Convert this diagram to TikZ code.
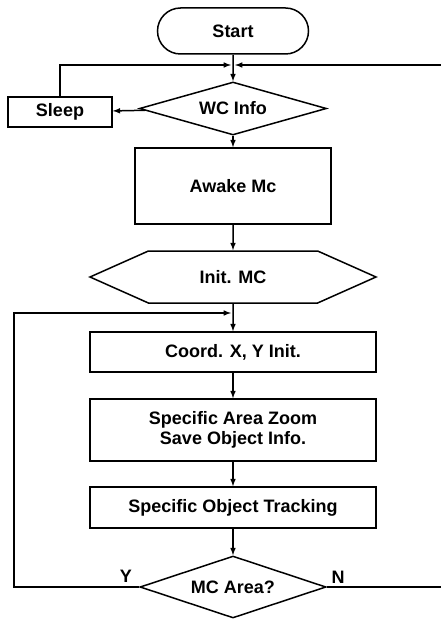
\documentclass[tikz,border=0pt]{standalone}
\usepackage{fontspec}
\setmainfont{Liberation Sans}
\usepackage{tikz}
\usetikzlibrary{arrows,positioning,shapes.geometric,shapes.misc,shapes.symbols}

\begin{document}
\begin{tikzpicture}[
  x=1pt, y=-1pt, line width=1.5pt, >=latex,
  every node/.style={font=\fontsize{18}{20}\selectfont\bfseries},
  term/.style={rounded rectangle, draw, minimum width=151pt, minimum height=46pt, inner sep=0pt},
  proc/.style={rectangle, draw, minimum width=286pt, inner sep=0pt, align=center},
  decide/.style={diamond, draw, aspect=3.5, minimum width=187pt, minimum height=53pt, inner sep=0pt},
  prep/.style={signal, signal to=west and east, signal pointer angle=48, draw, minimum width=286pt, minimum height=52pt, inner sep=0pt},
  flag/.style={inner sep=0pt}
]
\useasboundingbox (0,0) rectangle (440,620);

% Main column
\node[term] (start) at (233,31) {Start};
\coordinate (merge) at (233,65);
\node[decide] (wc) at (233,108.5) {WC Info};
\node[proc, minimum width=104pt, minimum height=30pt] (sleep) at (60,112) {Sleep};
\node[proc, minimum width=196pt, minimum height=76pt] (awake) at (233,186) {Awake Mc};
\node[prep] (init) at (233,277) {Init. MC};
\coordinate (merge2) at (233,313);
\node[proc, minimum height=40pt] (coord) at (233,352) {Coord. X, Y Init.};
\node[proc, minimum height=62pt] (zoom) at (233,430) {Specific Area Zoom\\Save Object Info.};
\node[proc, minimum height=41pt] (track) at (233,507.5) {Specific Object Tracking};
\node[decide, minimum width=186pt, minimum height=62pt] (mcarea) at (233,587) {MC Area?};

% Y / N labels
\node[flag] (yes) at (126,576) {Y};
\node[flag] (no) at (338,577) {N};

% Straight flow
\draw[->] (start) -- (wc);
\draw[->] (wc) -- (sleep);
\draw[->] (wc) -- (awake);
\draw[->] (awake) -- (init);
\draw[->] (init) -- (coord);
\draw[->] (coord) -- (zoom);
\draw[->] (zoom) -- (track);
\draw[->] (track) -- (mcarea);

% Loops back
\draw[->] (sleep.north) |- ([xshift=-2pt]merge);
\draw[->] (mcarea.east) -- (443,587) |- ([xshift=2pt]merge);
\draw[->] (mcarea.west) -- (14,587) |- ([xshift=-2pt]merge2);
\end{tikzpicture}
\end{document}
